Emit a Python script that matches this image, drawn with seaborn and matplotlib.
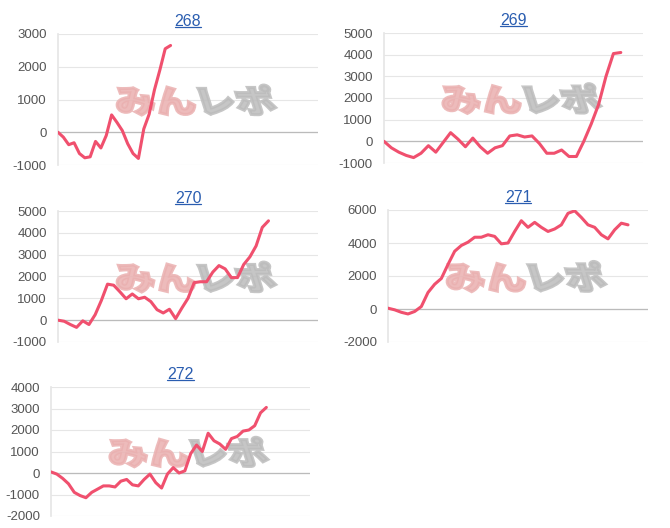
import numpy as np
import pandas as pd
import seaborn as sns
import matplotlib.pyplot as plt
from matplotlib.textpath import TextPath
from matplotlib.patches import PathPatch
from matplotlib.font_manager import FontProperties
import matplotlib.transforms as mtransforms

titles = ["268", "269", "270", "271", "272"]
s268 = [0, -150, -380, -320, -650, -780, -750, -280, -480, -100, 530, 300, 50, -350, -650, -800, 100, 550, 1300, 1900, 2550, 2650]
s269 = [0, -300, -500, -650, -750, -550, -200, -500, -50, 400, 100, -250, 150, -250, -550, -300, -200, 250, 300, 200, 250, -100, -550, -550, -400, -700, -700, 0, 800, 1700, 3000, 4050, 4100]
s270 = [0, -50, -200, -330, -30, -200, 250, 900, 1650, 1600, 1300, 980, 1200, 980, 1050, 850, 480, 330, 500, 70, 550, 1000, 1720, 1760, 1760, 2200, 2500, 2350, 1950, 1950, 2550, 2900, 3400, 4250, 4550]
s271 = [50, -50, -200, -300, -150, 150, 1000, 1500, 1850, 2700, 3500, 3850, 4050, 4350, 4350, 4500, 4400, 3950, 4000, 4700, 5350, 4950, 5250, 4950, 4700, 4850, 5100, 5800, 5950, 5550, 5100, 4950, 4500, 4250, 4800, 5200, 5100]
s272 = [50, -50, -250, -500, -900, -1050, -1150, -900, -750, -600, -600, -650, -380, -300, -550, -600, -300, -50, -450, -700, -50, 250, 0, 100, 900, 1300, 1000, 1850, 1500, 1350, 1100, 1600, 1700, 1950, 2000, 2200, 2800, 3050]
series = [s268, s269, s270, s271, s272]
x_extent = [48.5, 35, 42, 39, 44.5]
y_ranges = [(-1000, 3000, 1000), (-1000, 5000, 1000), (-1000, 5000, 1000), (-2000, 6000, 2000), (-2000, 4000, 1000)]

sns.set_theme(style="white")
plt.rcParams['font.family'] = ['Liberation Sans', 'DejaVu Sans']
plt.rcParams['axes.unicode_minus'] = False

fig = plt.figure(figsize=(6.7, 5.28), dpi=100)
W, H = 670, 528
boxes = [(58, 34, 318, 165), (384, 33, 643, 163), (58, 211, 318, 342), (388, 210, 648, 342), (51, 387, 310, 516)]
jp = FontProperties(family="Noto Sans CJK JP", weight="black")

def watermark(ax):
    tp1 = TextPath((0, 0), "みん", size=1, prop=jp)
    tp2 = TextPath((2.0, 0), "レポ", size=1, prop=jp)
    for tp, col in ((tp1, "#eab0b0"), (tp2, "#bcbcbc")):
        tr = (mtransforms.Affine2D().skew_deg(-14, 0).scale(0.155, 0.24)
              .translate(0.23, 0.40) + ax.transAxes)
        ax.add_patch(PathPatch(tp, transform=tr, fc=col, ec=col, lw=2.2, alpha=0.85, zorder=1))

for i, (t, s) in enumerate(zip(titles, series)):
    x0, y0, x1, y1 = boxes[i]
    ax = fig.add_axes([x0 / W, 1 - y1 / H, (x1 - x0) / W, (y1 - y0) / H])
    df = pd.DataFrame({"x": np.arange(len(s)), "v": s})
    lo, hi, st = y_ranges[i]
    ax.set_ylim(lo, hi)
    ax.set_xlim(0, x_extent[i])
    ax.set_yticks(np.arange(lo, hi + 1, st))
    ax.set_xticks([])
    ax.grid(axis="y", color="#e6e6e6", linewidth=0.8)
    ax.axhline(0, color="#bbbbbb", linewidth=0.9, zorder=1.5)
    watermark(ax)
    sns.lineplot(data=df, x="x", y="v", ax=ax, color="#f0506e", linewidth=2.2, zorder=3)
    ax.set_xlabel("")
    ax.set_ylabel("")
    for sp in ["top", "right", "bottom"]:
        ax.spines[sp].set_visible(False)
    ax.spines["left"].set_color("#e6e6e6")
    ax.tick_params(axis="y", labelsize=9.5, colors="#555555", length=0, pad=8)
    ax.set_title(t, fontsize=11.5, color="#2a5db0", pad=6)
    ttl = ax.title
    fig.canvas.draw()
    bb = ttl.get_window_extent()
    fx = fig.transFigure.inverted()
    (a0, b0), (a1, b1) = fx.transform([(bb.x0, bb.y0), (bb.x1, bb.y1)])
    fig.add_artist(plt.Line2D([a0, a1], [b0 + 0.004, b0 + 0.004], color="#2a5db0", linewidth=0.9))

fig.savefig("out.png", dpi=100)
